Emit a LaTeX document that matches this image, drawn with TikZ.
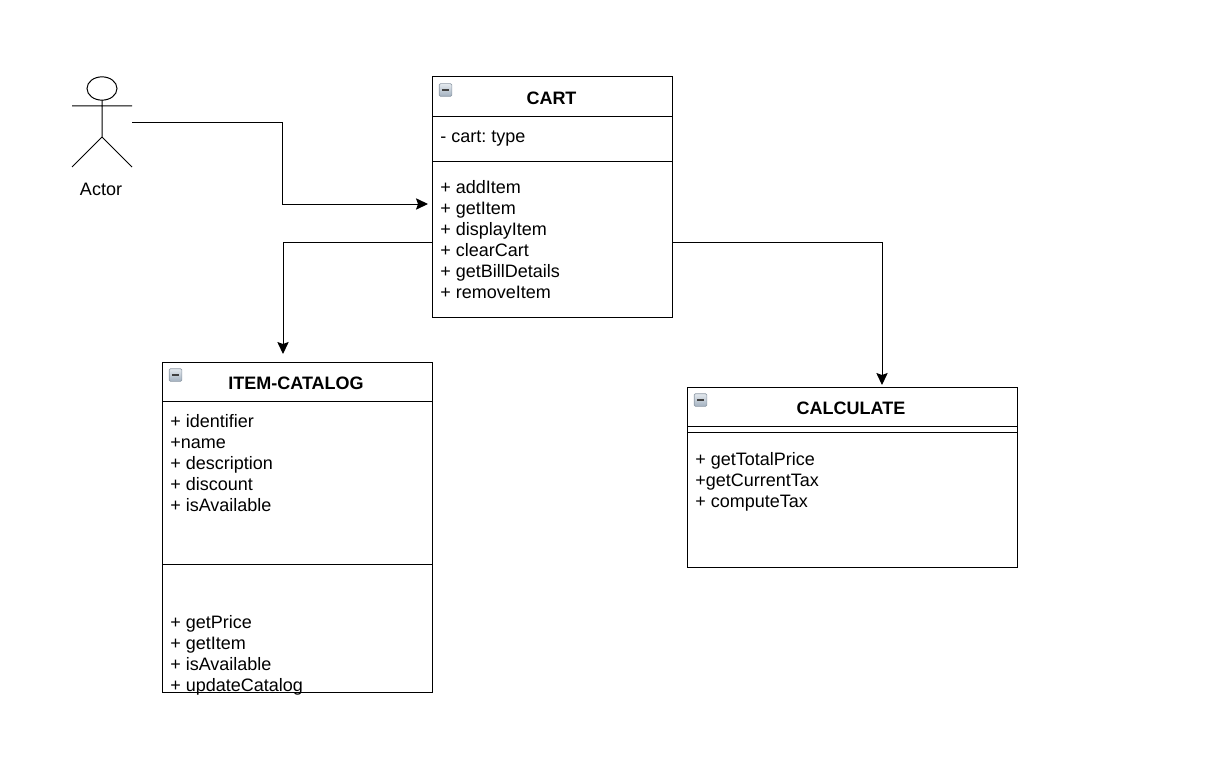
\documentclass[tikz,border=0pt]{standalone}
\usepackage{fontspec}
\setmainfont{Liberation Sans}
\usetikzlibrary{arrows.meta,calc,shapes.geometric}
\definecolor{icontop}{HTML}{E4E9EE}
\definecolor{iconbot}{HTML}{A3B1C0}
\definecolor{iconedge}{HTML}{8E9AA6}
\tikzset{
  line/.style={draw=black,line width=0.75pt},
  classbox/.style={line,rectangle,anchor=north west,inner sep=0pt,outer sep=0pt},
  classtitle/.style={font=\fontsize{13.5pt}{15pt}\selectfont\bfseries,inner sep=0pt,anchor=base},
  members/.style={font=\fontsize{13.5pt}{15.75pt}\selectfont,inner sep=0pt,anchor=north west,align=left},
  conn/.style={line,-{Stealth[length=9pt,width=8.5pt,inset=1.5pt]}},
  icon/.style={rectangle,rounded corners=1pt,draw=iconedge,line width=.5pt,top color=icontop,bottom color=iconbot,minimum size=9.5pt,inner sep=0pt},
}
\newcommand{\minusicon}[2]{\node[icon] (#1) at (#2) {}; \draw[black!75,line width=1.1pt] ($(#1.center)+(-3.5,0)$) -- ($(#1.center)+(3.5,0)$);}
\begin{document}
\begin{tikzpicture}[x=0.75pt,y=-0.75pt]
\frenchspacing
\useasboundingbox (0,0) rectangle (1228,774);
% actor
\node[line,ellipse,minimum width=22.5pt,minimum height=17.5pt,inner sep=0pt,outer sep=0pt] (head) at (102,88.5) {};
\coordinate (hip) at (102,137);
\coordinate (armL) at (72,106);
\coordinate (armR) at (132,106);
\coordinate (legL) at (72,167);
\coordinate (legR) at (132,167);
\draw[line] (head.south) -- (hip) (armL) -- (armR) (legL) -- (hip) -- (legR);
\node[font=\fontsize{13.5pt}{15pt}\selectfont,inner sep=0pt,anchor=base] (actorlabel) at (101,195) {Actor};
% CART
\node[classbox,minimum width=180pt,minimum height=180pt] (cart) at (432,77) {};
\coordinate (c1l) at (432,116); \coordinate (c1r) at (672,116);
\coordinate (c2l) at (432,161); \coordinate (c2r) at (672,161);
\draw[line] (c1l) -- (c1r) (c2l) -- (c2r);
\minusicon{carticon}{445.5,90}
\node[classtitle] (carttitle) at (551.5,104.5) {CART};
\node[members] (cartattr) at (440,131) {- cart: type};
\node[members] (cartops) at (440,180) {+ addItem\\+ getItem\\+ displayItem\\+ clearCart\\+ getBillDetails\\+ removeItem};
% ITEM-CATALOG
\node[classbox,minimum width=202.5pt,minimum height=247.5pt] (cat) at (162,362) {};
\coordinate (k1l) at (162,401); \coordinate (k1r) at (432,401);
\coordinate (k2l) at (162,564); \coordinate (k2r) at (432,564);
\draw[line] (k1l) -- (k1r) (k2l) -- (k2r);
\minusicon{caticon}{175.5,375}
\node[classtitle] (cattitle) at (296,389.5) {ITEM-CATALOG};
\node[members] (catattr) at (170,414) {+ identifier\\+name\\+ description\\+ discount\\+ isAvailable};
\node[members] (catops) at (170,615) {+ getPrice\\+ getItem\\+ isAvailable\\+ updateCatalog};
% CALCULATE
\node[classbox,minimum width=247.5pt,minimum height=135pt] (calc) at (687,387) {};
\coordinate (s1l) at (687,426); \coordinate (s1r) at (1017,426);
\coordinate (s2l) at (687,432); \coordinate (s2r) at (1017,432);
\draw[line] (s1l) -- (s1r) (s2l) -- (s2r);
\minusicon{calcicon}{700.5,400}
\node[classtitle] (calctitle) at (851,414.5) {CALCULATE};
\node[members] (calcops) at (695,452) {+ getTotalPrice\\+getCurrentTax\\+ computeTax};
% connectors
\coordinate (actorout) at (132,122);
\coordinate (cartin) at (428,204);
\coordinate (cartoutl) at (432,242);
\coordinate (catin) at (283,354);
\coordinate (cartoutr) at (672,242);
\coordinate (calcin) at (882,385);
\draw[conn] (actorout) -- (282,122) -- (282,204) -- (cartin);
\draw[conn] (cartoutl) -- (283,242) -- (catin);
\draw[conn] (cartoutr) -- (882,242) -- (calcin);
\end{tikzpicture}
\end{document}
